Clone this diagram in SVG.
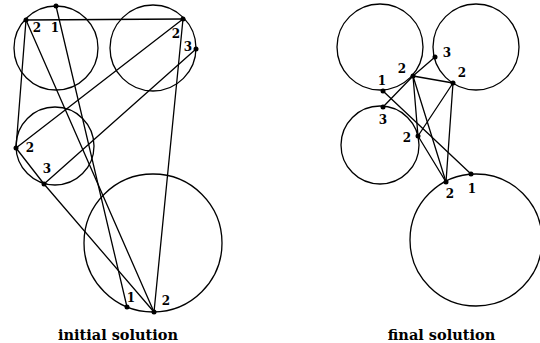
<svg xmlns="http://www.w3.org/2000/svg" width="540" height="343" viewBox="0 0 540 343">
<style>
.c{fill:none;stroke:#000;stroke-width:1.3}
.e{stroke:#000;stroke-width:1.3;fill:none;stroke-linecap:round}
.p{fill:#000}
.l{font-family:"DejaVu Serif","Liberation Serif",serif;font-weight:bold;font-size:12px;fill:#000;text-anchor:middle}
.cap{font-family:"DejaVu Serif","Liberation Serif",serif;font-weight:bold;font-size:14.5px;fill:#000;text-anchor:middle}
</style>
<rect width="540" height="343" fill="#fff"/>
<g id="connectors">
<line class="e" x1="26" y1="20" x2="183" y2="19"/>
<line class="e" x1="26" y1="20" x2="16" y2="148"/>
<line class="e" x1="26" y1="20" x2="154" y2="312"/>
<line class="e" x1="56" y1="6" x2="127" y2="307"/>
<line class="e" x1="183" y1="19" x2="16" y2="148"/>
<line class="e" x1="196" y1="49" x2="44" y2="184"/>
<line class="e" x1="183" y1="19" x2="154" y2="312"/>
<line class="e" x1="16" y1="148" x2="44" y2="184"/>
<line class="e" x1="44" y1="184" x2="154" y2="312"/>
<line class="e" x1="383" y1="91" x2="471" y2="174"/>
<line class="e" x1="383" y1="107" x2="413" y2="76"/>
<line class="e" x1="413" y1="76" x2="435" y2="57"/>
<line class="e" x1="413" y1="76" x2="453" y2="83"/>
<line class="e" x1="413" y1="76" x2="418" y2="136"/>
<line class="e" x1="413" y1="76" x2="446" y2="182"/>
<line class="e" x1="453" y1="83" x2="418" y2="136"/>
<line class="e" x1="453" y1="83" x2="446" y2="182"/>
<line class="e" x1="418" y1="136" x2="446" y2="182"/>
</g>
<g id="circleA">
<circle class="c" cx="56" cy="48" r="42"/>
<circle class="p" cx="26" cy="20" r="2.5"/>
<circle class="p" cx="56" cy="6" r="2.5"/>
<text class="l" x="37" y="32">2</text>
<text class="l" x="55" y="32">1</text>
</g>
<g id="circleB">
<circle class="c" cx="153" cy="48" r="43"/>
<circle class="p" cx="183" cy="19" r="2.5"/>
<circle class="p" cx="196" cy="49" r="2.5"/>
<text class="l" x="176" y="38">2</text>
<text class="l" x="188" y="51">3</text>
</g>
<g id="circleC">
<circle class="c" cx="55" cy="146" r="39"/>
<circle class="p" cx="16" cy="148" r="2.5"/>
<circle class="p" cx="44" cy="184" r="2.5"/>
<text class="l" x="30" y="152">2</text>
<text class="l" x="47" y="173">3</text>
</g>
<g id="circleD">
<circle class="c" cx="153" cy="243" r="69"/>
<circle class="p" cx="127" cy="307" r="2.5"/>
<circle class="p" cx="154" cy="312" r="2.5"/>
<text class="l" x="131" y="302">1</text>
<text class="l" x="166" y="305">2</text>
</g>
<g id="circleE">
<circle class="c" cx="380" cy="47" r="43"/>
<circle class="p" cx="383" cy="91" r="2.5"/>
<circle class="p" cx="413" cy="76" r="2.5"/>
<text class="l" x="382" y="85">1</text>
<text class="l" x="402" y="73">2</text>
</g>
<g id="circleF">
<circle class="c" cx="476" cy="47" r="43"/>
<circle class="p" cx="435" cy="57" r="2.5"/>
<circle class="p" cx="453" cy="83" r="2.5"/>
<text class="l" x="447" y="57">3</text>
<text class="l" x="462" y="77">2</text>
</g>
<g id="circleG">
<circle class="c" cx="380" cy="145" r="39"/>
<circle class="p" cx="383" cy="107" r="2.5"/>
<circle class="p" cx="418" cy="136" r="2.5"/>
<text class="l" x="383" y="124">3</text>
<text class="l" x="407" y="142">2</text>
</g>
<g id="circleH">
<circle class="c" cx="476" cy="240" r="66"/>
<circle class="p" cx="446" cy="182" r="2.5"/>
<circle class="p" cx="471" cy="174" r="2.5"/>
<text class="l" x="450" y="198">2</text>
<text class="l" x="472" y="193">1</text>
</g>
<g id="captions">
<text class="cap" x="118" y="340">initial solution</text>
<text class="cap" x="441.5" y="340">final solution</text>
</g>
</svg>
